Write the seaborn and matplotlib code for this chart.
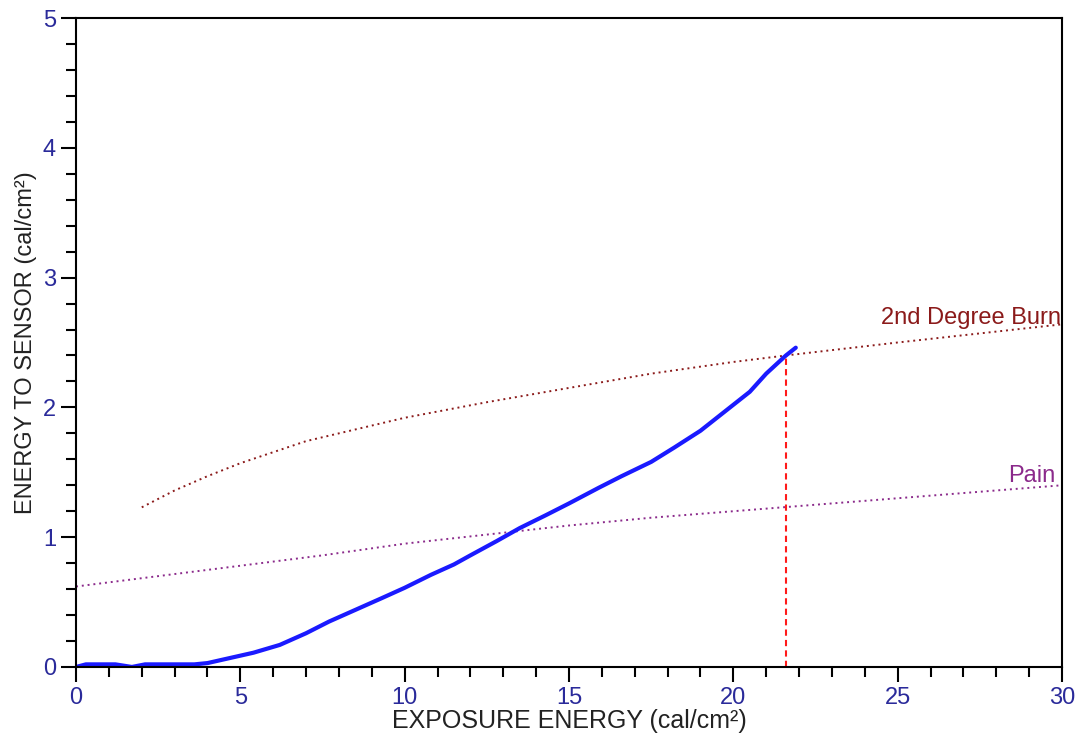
import numpy as np
import pandas as pd
import seaborn as sns
import matplotlib.pyplot as plt
from matplotlib.ticker import MultipleLocator

# sensor response (blue curve)
sensor_x = [0, 0.3, 0.8, 1.2, 1.7, 2.1, 2.6, 3.0, 3.6, 4.0, 4.7, 5.4, 6.2, 7.0, 7.7,
            8.5, 9.3, 10.0, 10.8, 11.5, 12.0, 12.8, 13.5, 14.3, 15.0, 15.9, 16.6,
            17.5, 18.2, 19.0, 19.8, 20.5, 21.0, 21.6, 21.9]
sensor_y = [0.0, 0.02, 0.02, 0.02, 0.0, 0.02, 0.02, 0.02, 0.02, 0.03, 0.07, 0.11, 0.17, 0.26, 0.35,
            0.44, 0.53, 0.61, 0.71, 0.79, 0.86, 0.97, 1.07, 1.17, 1.26, 1.38, 1.47,
            1.58, 1.69, 1.82, 1.98, 2.12, 2.26, 2.40, 2.46]

# 2nd degree burn criterion
burn_x = [2, 3, 4, 5, 7, 10, 12.5, 15, 17.5, 20, 21.6, 25, 30]
burn_y = [1.23, 1.36, 1.47, 1.57, 1.74, 1.92, 2.04, 2.15, 2.26, 2.35, 2.40, 2.50, 2.64]

# pain threshold
pain_x = [0, 2.5, 5, 7.5, 10, 12.5, 15, 17.5, 20, 22.5, 25, 27.5, 30]
pain_y = [0.62, 0.70, 0.78, 0.86, 0.95, 1.02, 1.09, 1.15, 1.20, 1.25, 1.30, 1.35, 1.40]

cross_x = 21.6
cross_y = 2.40

sns.set_style("white")
plt.rcParams['font.family'] = ['Liberation Sans', 'DejaVu Sans']

fig = plt.figure(figsize=(10.83, 7.41), dpi=100)
ax = fig.add_axes([0.0702, 0.0999, 0.9104, 0.8758])

sns.lineplot(x=burn_x, y=burn_y, ax=ax, color="#8b1a1a", lw=1.4, ls=(0, (1, 2)))
sns.lineplot(x=pain_x, y=pain_y, ax=ax, color="#8b2a8b", lw=1.4, ls=(0, (1, 2)))
sns.lineplot(x=sensor_x, y=sensor_y, ax=ax, color="#1a1aff", lw=3)
ax.plot([cross_x, cross_x], [0, cross_y], color="#ff1a1a", lw=1.5, ls=(0, (3, 2)))

ax.text(24.5, 2.69, "2nd Degree Burn", color="#8b1a1a", fontsize=17,
        va="center", ha="left", clip_on=True)
ax.text(29.8, 1.47, "Pain", color="#8b2a8b", fontsize=17, va="center", ha="right")

ax.set_xlim(0, 30)
ax.set_ylim(0, 5)
ax.xaxis.set_major_locator(MultipleLocator(5))
ax.xaxis.set_minor_locator(MultipleLocator(1))
ax.yaxis.set_major_locator(MultipleLocator(1))
ax.yaxis.set_minor_locator(MultipleLocator(0.2))
ax.tick_params(which="major", direction="out", length=11, width=1.5, color="black",
               labelsize=17, labelcolor="#2a2a9a", bottom=True, left=True)
ax.tick_params(which="minor", direction="out", length=7, width=1.5, color="black",
               bottom=True, left=True)
for s in ax.spines.values():
    s.set_color("black")
    s.set_linewidth(1.5)

ax.set_xlabel("EXPOSURE ENERGY (cal/cm²)", fontsize=18, color="#222222", labelpad=0)
ax.set_ylabel("ENERGY TO SENSOR (cal/cm²)", fontsize=17, color="#222222", labelpad=4)

fig.savefig("out.png", dpi=100)
